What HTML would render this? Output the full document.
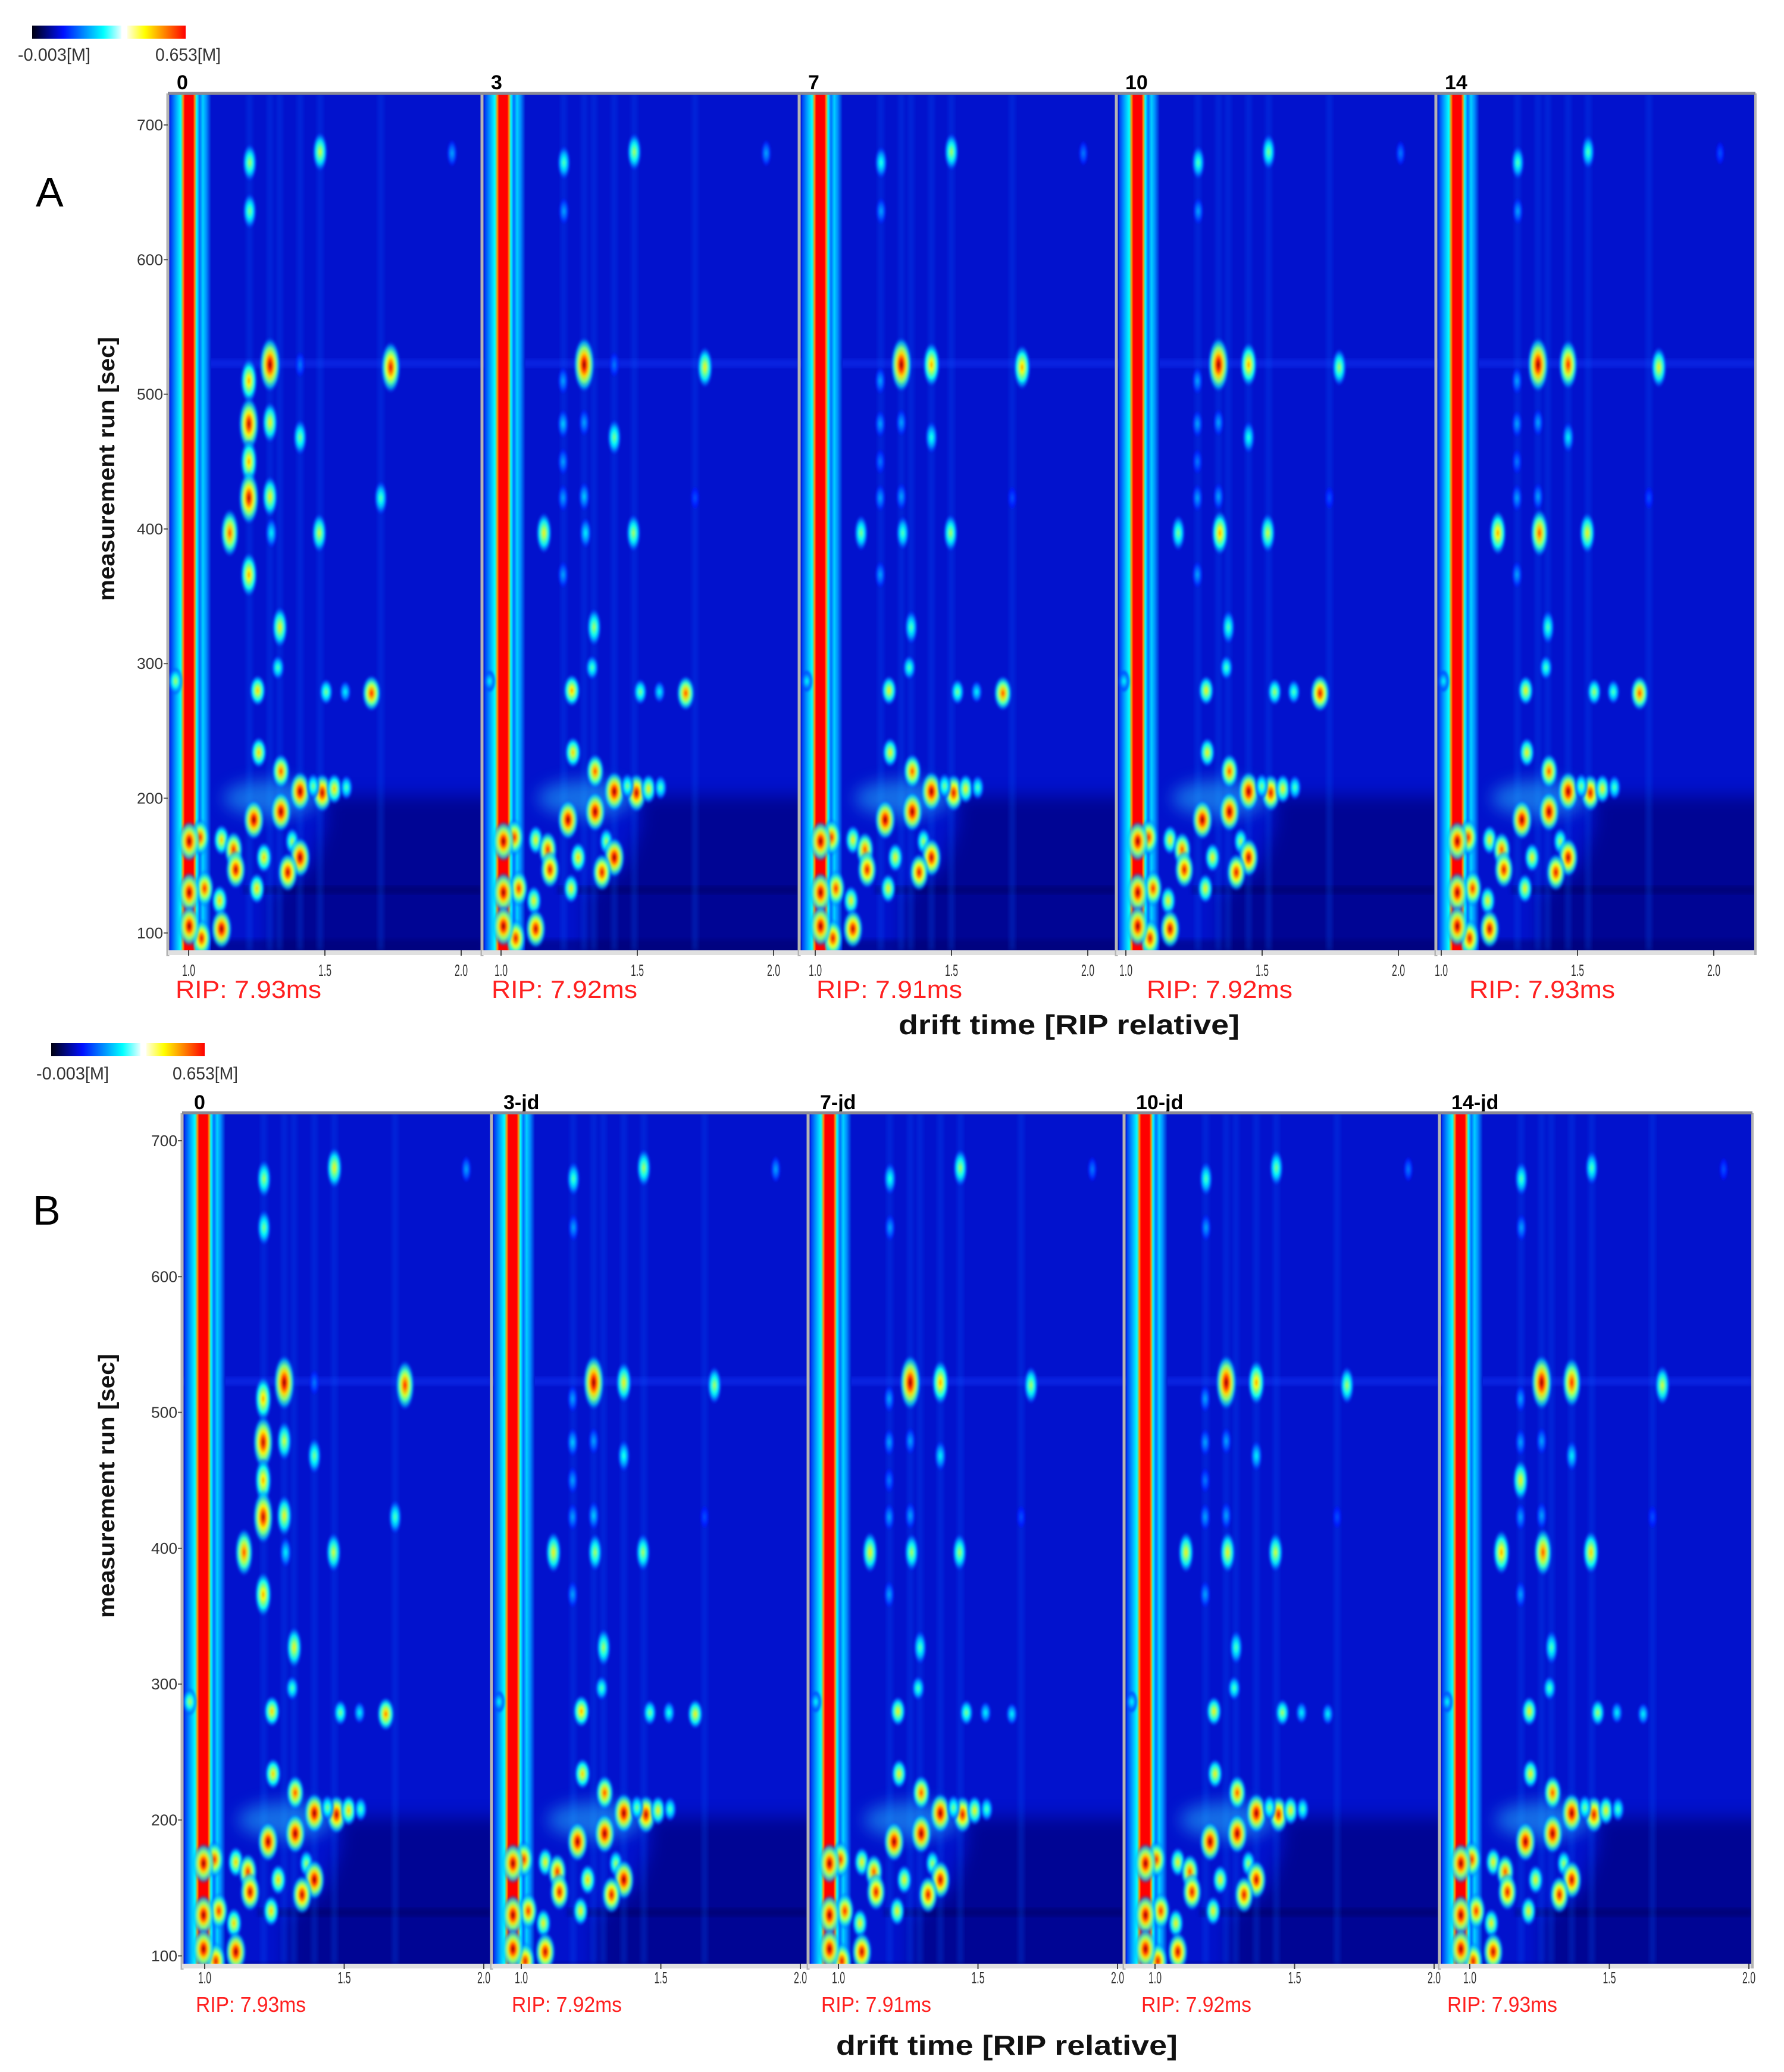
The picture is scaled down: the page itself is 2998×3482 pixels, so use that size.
<!DOCTYPE html>
<html><head><meta charset="utf-8"><style>
html,body{margin:0;padding:0;background:#fff}
svg{display:block}
text{font-family:"Liberation Sans",sans-serif}
</style></head><body>
<svg id="fig" width="2998" height="3482" viewBox="0 0 2998 3482" xmlns="http://www.w3.org/2000/svg">
<defs>
<filter id="blur" x="-50%" y="-50%" width="200%" height="200%"><feGaussianBlur stdDeviation="14"/></filter>
<filter id="blur4" x="-50%" y="-10%" width="200%" height="120%"><feGaussianBlur stdDeviation="4"/></filter>
<filter id="soft" x="-50%" y="-50%" width="200%" height="200%"><feGaussianBlur stdDeviation="1.5"/></filter>
<linearGradient id="cbLow" x1="0" x2="1" y1="0" y2="0">
<stop offset="0" stop-color="#000010"/><stop offset="0.35" stop-color="#0010ff"/><stop offset="0.8" stop-color="#00ffff"/><stop offset="1" stop-color="#e8ffff"/></linearGradient>
<linearGradient id="cbHigh" x1="0" x2="1" y1="0" y2="0">
<stop offset="0" stop-color="#ffffe0"/><stop offset="0.3" stop-color="#ffff00"/><stop offset="0.65" stop-color="#ff8000"/><stop offset="1" stop-color="#ff0000"/></linearGradient>
<linearGradient id="ripGrad" x1="0" x2="1" y1="0" y2="0">
<stop offset="0" stop-color="#0030f0"/><stop offset="0.12" stop-color="#0090ff"/><stop offset="0.26" stop-color="#00ffff"/><stop offset="0.32" stop-color="#ff9000"/><stop offset="0.36" stop-color="#ff0000"/><stop offset="0.56" stop-color="#ff0000"/><stop offset="0.6" stop-color="#ff9000"/><stop offset="0.65" stop-color="#00ffff"/><stop offset="0.72" stop-color="#0070ff"/><stop offset="0.8" stop-color="#00d0ff"/><stop offset="0.88" stop-color="#0090ff"/><stop offset="1" stop-color="#0018d0"/></linearGradient>
</defs>
<g id="root"></g>
</svg>
<script>
// ---- data ----
const panelLabelsA = ['0', '3', '7', '10', '14'];
const panelLabelsB = ['0', '3-jd', '7-jd', '10-jd', '14-jd'];
const ripLabelsA = ['RIP: 7.93ms', 'RIP: 7.92ms', 'RIP: 7.91ms', 'RIP: 7.92ms', 'RIP: 7.93ms'];
const ripLabelsB = ['RIP: 7.93ms', 'RIP: 7.92ms', 'RIP: 7.91ms', 'RIP: 7.92ms', 'RIP: 7.93ms'];
const yTicks = [100, 200, 300, 400, 500, 600, 700];
const xTicks = [1.0, 1.5, 2.0];
const xTickLabels = ['1.0', '1.5', '2.0'];
const colorbarLabels = ['-0.003[M]', '0.653[M]'];
// peak drift time (RIP relative) and retention (sec)
const peakDrift = [1.221,1.478,1.96,1.221,1.295,1.405,1.736,1.218,1.218,1.295,1.405,1.218,1.218,1.295,1.70,1.148,1.218,1.475,1.30,1.331,1.324,0.95,1.25,1.50,1.57,1.666,1.254,1.335,1.405,1.335,1.236,1.486,1.453,1.53,1.574,1.04,1.118,1.162,1.17,1.273,1.376,1.405,1.36,1.247,1.056,1.111,1.118,1.045,1.0,1.0,1.0];
const peakRT =    [672,680,679,636,522,522,520,510,478,479,468,450,423,424,423,397,366,397,397,327,297,287,280,279,279,278,234,220,205,190,184,204,209,207,208,171,169,162,147,156,168,156,145,133,133,124,103,96,168,130,105];
// intensities per peak for the five samples
const intensA = [
[0.5,0.4,0.35,0.4,0.4],[0.55,0.5,0.5,0.45,0.4],[0.2,0.2,0.15,0.15,0.1],[0.45,0.2,0.2,0.2,0.2],
[1,1,1,1,1],[0.15,0.15,0.7,0.7,0.85],[0.9,0.6,0.7,0.5,0.6],[0.7,0.2,0.2,0.2,0.2],
[0.95,0.25,0.2,0.2,0.2],[0.6,0.2,0.2,0.2,0.2],[0.45,0.45,0.35,0.35,0.3],[0.7,0.2,0.15,0.15,0.15],
[0.95,0.2,0.2,0.2,0.2],[0.6,0.25,0.2,0.2,0.2],[0.4,0.1,0.1,0.1,0.1],[0.8,0.6,0.45,0.45,0.7],
[0.7,0.2,0.2,0.2,0.2],[0.55,0.5,0.5,0.55,0.6],[0.3,0.3,0.4,0.7,0.8],[0.6,0.5,0.4,0.4,0.4],
[0.4,0.4,0.4,0.4,0.4],[0.5,0.3,0.3,0.3,0.3],[0.65,0.7,0.6,0.6,0.6],[0.45,0.45,0.45,0.5,0.5],
[0.3,0.3,0.3,0.4,0.4],[0.85,0.8,0.8,0.9,0.8],[0.65,0.65,0.6,0.6,0.6],[0.8,0.8,0.8,0.8,0.8],
[1,1,1,1,1],[1,1,1,1,1],[1,1,1,1,1],[0.95,0.95,0.9,0.9,0.9],
[0.45,0.45,0.45,0.45,0.45],[0.65,0.6,0.6,0.6,0.6],[0.4,0.4,0.4,0.4,0.4],[0.85,0.85,0.85,0.85,0.85],
[0.65,0.6,0.6,0.6,0.6],[0.85,0.85,0.8,0.8,0.8],[0.95,0.9,0.9,0.9,0.9],[0.65,0.65,0.6,0.6,0.6],
[0.5,0.5,0.5,0.5,0.5],[1,1,0.95,0.95,0.95],[0.95,0.9,0.9,0.9,0.9],[0.65,0.6,0.6,0.6,0.6],
[0.85,0.85,0.85,0.85,0.85],[0.65,0.6,0.6,0.6,0.6],[1,0.95,0.95,0.95,0.95],[0.9,0.9,0.9,0.9,0.9],
[1,1,1,1,1],[1,1,1,1,1],[1,1,1,1,1]];
const intensB = [
[0.5,0.4,0.35,0.4,0.4],[0.6,0.5,0.5,0.45,0.4],[0.2,0.2,0.15,0.15,0.1],[0.45,0.2,0.2,0.2,0.2],
[1,1,1,1,1],[0.15,0.6,0.7,0.7,0.85],[0.85,0.5,0.5,0.5,0.55],[0.7,0.2,0.2,0.2,0.2],
[0.95,0.25,0.2,0.2,0.2],[0.55,0.2,0.2,0.2,0.2],[0.45,0.35,0.3,0.3,0.3],[0.7,0.2,0.15,0.15,0.6],
[0.95,0.2,0.2,0.2,0.2],[0.6,0.25,0.2,0.2,0.2],[0.4,0.1,0.1,0.1,0.1],[0.8,0.6,0.6,0.6,0.7],
[0.7,0.2,0.2,0.2,0.2],[0.55,0.5,0.5,0.55,0.65],[0.3,0.5,0.5,0.6,0.8],[0.6,0.5,0.4,0.4,0.4],
[0.4,0.4,0.4,0.4,0.4],[0.5,0.3,0.3,0.3,0.3],[0.65,0.7,0.6,0.6,0.6],[0.45,0.45,0.45,0.5,0.5],
[0.3,0.35,0.3,0.3,0.3],[0.75,0.6,0.3,0.3,0.3],[0.65,0.65,0.6,0.6,0.6],[0.8,0.8,0.8,0.8,0.8],
[1,1,1,1,1],[1,1,1,1,1],[1,1,1,1,1],[0.95,0.95,0.9,0.9,0.9],
[0.45,0.45,0.45,0.45,0.45],[0.65,0.6,0.6,0.6,0.6],[0.4,0.4,0.4,0.4,0.4],[0.85,0.85,0.85,0.85,0.85],
[0.65,0.6,0.6,0.6,0.6],[0.85,0.85,0.8,0.8,0.8],[0.95,0.9,0.9,0.9,0.9],[0.65,0.65,0.6,0.6,0.6],
[0.5,0.5,0.5,0.5,0.5],[1,1,0.95,0.95,0.95],[0.95,0.9,0.9,0.9,0.9],[0.65,0.6,0.6,0.6,0.6],
[0.85,0.85,0.85,0.85,0.85],[0.65,0.6,0.6,0.6,0.6],[1,0.95,0.95,0.95,0.95],[0.9,0.9,0.9,0.9,0.9],
[1,1,1,1,1],[1,1,1,1,1],[1,1,1,1,1]];
const streakDrift = [1.045, 1.22, 1.295, 1.33, 1.405, 1.478, 1.70];

// ---- rendering ----
const NS = 'http://www.w3.org/2000/svg';
const svg = document.getElementById('fig');
const root = document.getElementById('root');
const defs = svg.querySelector('defs');
function mk(tag, attrs, parent) {
  const e = document.createElementNS(NS, tag);
  for (const k in attrs) e.setAttribute(k, attrs[k]);
  (parent || root).appendChild(e);
  return e;
}
function clamp(v){return Math.max(0, Math.min(1, v));}
function jet(x) {
  const r = clamp(1.5 - Math.abs(4*x - 3)), g = clamp(1.5 - Math.abs(4*x - 2)), b = clamp(1.5 - Math.abs(4*x - 1));
  return 'rgb(' + Math.round(r*255) + ',' + Math.round(g*255) + ',' + Math.round(b*255) + ')';
}
let gid = 0;
function peakGrad(I) {
  const id = 'pg' + (gid++);
  const g = mk('radialGradient', {id: id}, defs);
  const stops = [0, 0.2, 0.4, 0.6, 0.8];
  for (const s of stops) {
    const v = 0.12 + 0.88 * I * (1 - s * 0.95);
    mk('stop', {offset: s, 'stop-color': jet(v), 'stop-opacity': s < 0.7 ? 1 : 0.7}, g);
  }
  mk('stop', {offset: 1, 'stop-color': jet(0.15), 'stop-opacity': 0}, g);
  return id;
}

const layoutA = {lefts:[282,810,1343,1876,2413], rightEnd:2950, top:157, bottom:1597, y700:210, ppu:2.263,
  tickOne:[317,842,1370,1892,2422], tickPPU:458, tickY:1640, ripY:1677, ripX:[295,826,1372,1927,2469], ripSize:42, ripLen:245,
  titleDx:15, titleY:150, labels:panelLabelsA, rips:ripLabelsA, intens:intensA, id:'a'};
const layoutB = {lefts:[306,826,1358,1889,2419], rightEnd:2945, top:1870, bottom:3300, y700:1917, ppu:2.283,
  tickOne:[344,876,1409,1941,2470], tickPPU:469, tickY:3333, ripY:3381, ripX:[329,860,1380,1918,2432], ripSize:36, ripLen:185,
  titleDx:20, titleY:1864, labels:panelLabelsB, rips:ripLabelsB, intens:intensB, id:'b'};

function drawFigure(L) {
  const yS = t => L.y700 + (700 - t) * L.ppu;
  const grp = mk('g', {});
  
  
  for (let k = 0; k < 5; k++) {
    const left = L.lefts[k], right = (k < 4 ? L.lefts[k+1] : L.rightEnd);
    const xS = d => left + 36 + (d - 1) * 460;
    const cid = 'clip' + L.id + k;
    const cp = mk('clipPath', {id: cid}, defs);
    mk('rect', {x:left, y:L.top, width:right-left, height:L.bottom-L.top}, cp);
    const pg = mk('g', {'clip-path': 'url(#' + cid + ')'}, grp);
    
    
    mk('rect', {x:left, y:L.top, width:right-left, height:L.bottom-L.top, fill:'rgb(2,18,205)'}, pg);
    // darker lower-right region
    const pts = [[1.5,202],[2.3,202],[2.3,60],[1.3,60],[1.3,128],[1.45,150],[1.5,180]].map(p => xS(p[0]) + ',' + yS(p[1])).join(' ');
    mk('polygon', {points: pts, fill:'rgb(0,0,125)', opacity:0.7, filter:'url(#blur)'}, pg);
    mk('rect', {x:xS(1.2), y:yS(135), width:right-xS(1.2), height:14, fill:'rgb(0,0,90)', opacity:0.45, filter:'url(#blur4)'}, pg);
    mk('rect', {x:left, y:yS(95), width:right-left, height:40, fill:'rgb(0,0,110)', opacity:0.5, filter:'url(#blur4)'}, pg);
    // horizontal band near 520 s
    mk('rect', {x:left, y:yS(526), width:right-left, height:14, fill:'rgb(20,60,255)', opacity:0.4, filter:'url(#blur4)'}, pg);
    // vertical streaks
    for (const d of streakDrift) {
      mk('rect', {x:xS(d)-4, y:L.top, width:8, height:L.bottom-L.top, fill:'rgb(0,100,255)', opacity:0.3, filter:'url(#blur4)'}, pg);
    }
    // haze
    mk('ellipse', {cx:xS(1.3), cy:yS(200), rx:80, ry:30, fill:'rgb(40,200,255)', opacity:0.5, filter:'url(#blur)'}, pg);
    // RIP line
    const rip = mk('rect', {x:xS(0.93), y:L.top, width:460*0.15, height:L.bottom-L.top, fill:'url(#ripGrad)'}, pg);
    
    
    // peaks
    for (let i = 0; i < peakDrift.length; i++) {
      const I = L.intens[i][k];
      const rx = 5 + 9 * I;
      const ry = rx * (peakRT[i] > 300 ? 2.6 : 1.9);
      const e = mk('ellipse', {cx:xS(peakDrift[i]), cy:yS(peakRT[i]), rx:rx*1.3, ry:ry*1.3, fill:'url(#' + peakGrad(I) + ')', filter:'url(#soft)'}, pg);
      
      
    }
    // separator line
    mk('line', {x1:left, x2:left, y1:L.top, y2:L.bottom+10, stroke:'#b4b4b4', 'stroke-width':5}, grp);
    // bottom axis strip
    mk('rect', {x:left, y:L.bottom, width:right-left, height:8, fill:'#e0e0e0'}, grp);
    for (let j = 0; j < xTicks.length; j++) {
      const tx = L.tickOne[k] + (xTicks[j] - 1) * L.tickPPU;
      mk('line', {x1:tx, x2:tx, y1:L.bottom, y2:L.bottom+9, stroke:'#444', 'stroke-width':2}, grp);
      const t = mk('text', {x:tx, y:L.tickY, 'text-anchor':'middle', 'font-size':28, fill:'#333', textLength:22, lengthAdjust:'spacingAndGlyphs'}, grp);
      t.textContent = xTickLabels[j];
      
      
    }
    // title
    const ti = mk('text', {x:left + L.titleDx, y:L.titleY, 'font-size':34, 'font-weight':'bold', fill:'#000'}, grp);
    ti.textContent = L.labels[k];
    
    
    // RIP label
    const rl = mk('text', {x:L.ripX[k], y:L.ripY, 'font-size':L.ripSize, fill:'#ff2020', textLength:L.ripLen, lengthAdjust:'spacingAndGlyphs'}, grp);
    rl.textContent = L.rips[k];
    
    
  }
  mk('line', {x1:L.rightEnd, x2:L.rightEnd, y1:L.top, y2:L.bottom+8, stroke:'#b4b4b4', 'stroke-width':4}, grp);
  mk('line', {x1:L.lefts[0], x2:L.rightEnd, y1:L.top, y2:L.top, stroke:'#8a8a96', 'stroke-width':5}, grp);
  // y axis
  const ax = L.lefts[0];
  for (const t of yTicks) {
    mk('line', {x1:ax-7, x2:ax, y1:yS(t), y2:yS(t), stroke:'#555', 'stroke-width':2}, grp);
    const tl = mk('text', {x:ax-8, y:yS(t)+9, 'text-anchor':'end', 'font-size':26, fill:'#333', textLength:44, lengthAdjust:'spacingAndGlyphs'}, grp);
    tl.textContent = String(t);
    
    
  }
}
drawFigure(layoutA);
drawFigure(layoutB);

function colorbar(x, y, lx1, lx2, ly, tag) {
  const g = mk('g', {});
  
  
  mk('rect', {x:x, y:y, width:150, height:22, fill:'url(#cbLow)'}, g);
  mk('rect', {x:x+160, y:y, width:98, height:22, fill:'url(#cbHigh)'}, g);
  const a = mk('text', {x:lx1, y:ly, 'font-size':30, fill:'#333', textLength:122, lengthAdjust:'spacingAndGlyphs'}, g);
  a.textContent = colorbarLabels[0];
  const b = mk('text', {x:lx2, y:ly, 'font-size':30, fill:'#333', textLength:110, lengthAdjust:'spacingAndGlyphs'}, g);
  b.textContent = colorbarLabels[1];
}
colorbar(54, 43, 30, 261, 102, 'a');
colorbar(86, 1753, 61, 290, 1814, 'b');
</script>
<script>
// static labels
(function(){
  const NS='http://www.w3.org/2000/svg';
  const svg=document.getElementById('fig');
  function t(attrs, txt, name){
    const e=document.createElementNS(NS,'text');
    for(const k in attrs) e.setAttribute(k, attrs[k]);
    e.textContent=txt;
    
    
    svg.appendChild(e);
  }
  t({x:60,y:347,'font-size':70,fill:'#000'}, 'A', 'panel-letter-a');
  t({x:55,y:2058,'font-size':70,fill:'#000'}, 'B', 'panel-letter-b');
  t({x:1510,y:1738,'font-size':46,'font-weight':'bold',fill:'#111',textLength:573,lengthAdjust:'spacingAndGlyphs'}, 'drift time [RIP relative]', 'x-axis-title-a');
  t({x:1405,y:3453,'font-size':46,'font-weight':'bold',fill:'#111',textLength:574,lengthAdjust:'spacingAndGlyphs'}, 'drift time [RIP relative]', 'x-axis-title-b');
  t({x:0,y:0,'font-size':38,'font-weight':'bold',fill:'#111','text-anchor':'middle',textLength:444,lengthAdjust:'spacingAndGlyphs',transform:'translate(192,788) rotate(-90)'}, 'measurement run [sec]', 'y-axis-title-a');
  t({x:0,y:0,'font-size':38,'font-weight':'bold',fill:'#111','text-anchor':'middle',textLength:444,lengthAdjust:'spacingAndGlyphs',transform:'translate(192,2497) rotate(-90)'}, 'measurement run [sec]', 'y-axis-title-b');
})();
</script>
</body></html>
